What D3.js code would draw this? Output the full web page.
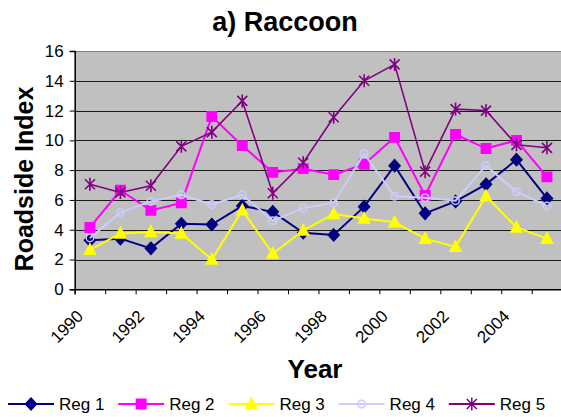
<!DOCTYPE html>
<html>
<head>
<meta charset="utf-8">
<script src="https://cdn.jsdelivr.net/npm/d3@7"></script>
<style>
  body { margin: 0; background: #fff; }
  text { font-family: "Liberation Sans", Arial, sans-serif; }
</style>
</head>
<body>
<script>
// data
var years = [1990, 1991, 1992, 1993, 1994, 1995, 1996, 1997, 1998, 1999, 2000, 2001, 2002, 2003, 2004, 2005];
var reg1 = [3.3, 3.4, 2.75, 4.4, 4.35, 5.6, 5.2, 3.8, 3.65, 5.55, 8.3, 5.1, 5.9, 7.05, 8.7, 6.1];
var reg2 = [4.15, 6.65, 5.3, 5.8, 11.6, 9.65, 7.85, 8.1, 7.7, 8.4, 10.2, 6.3, 10.4, 9.45, 10.0, 7.55];
var reg3 = [2.65, 3.75, 3.85, 3.75, 2.0, 5.3, 2.4, 3.95, 5.05, 4.75, 4.5, 3.4, 2.85, 6.25, 4.15, 3.4];
var reg4 = [3.45, 5.15, 5.9, 6.35, 5.7, 6.35, 4.6, 5.45, 5.8, 9.1, 6.25, 6.15, 5.95, 8.3, 6.55, 5.6];
var reg5 = [7.05, 6.5, 6.95, 9.6, 10.55, 12.65, 6.45, 8.5, 11.55, 14.0, 15.1, 7.9, 12.1, 12.0, 9.7, 9.5];
var seriesNames = ["Reg 1", "Reg 2", "Reg 3", "Reg 4", "Reg 5"];
var yTicks = [0, 2, 4, 6, 8, 10, 12, 14, 16];

var svg_width = 561;
var svg_height = 417;

var plot = { left: 74.7, right: 562.2, top: 51, bottom: 289.3 };

var svg = d3.select("body")
  .append("svg")
  .attr("width", svg_width)
  .attr("height", svg_height);

var x = d3.scaleLinear().domain([1990, 2006]).range([plot.left, plot.right]);
var y = d3.scaleLinear().domain([0, 16]).range([plot.bottom, plot.top]);

// plot background
svg.append("rect")
  .attr("x", plot.left)
  .attr("y", plot.top)
  .attr("width", plot.right - plot.left)
  .attr("height", plot.bottom - plot.top)
  .attr("fill", "#c0c0c0");

// gridlines
svg.append("g")
  .selectAll("line")
  .data(yTicks.filter(d => d > 0))
  .enter()
  .append("line")
  .attr("x1", plot.left)
  .attr("x2", plot.right)
  .attr("y1", d => Math.round(y(d)) + 0.5)
  .attr("y2", d => Math.round(y(d)) + 0.5)
  .attr("stroke", d => d == 16 ? "#808080" : "#1a1a1a")
  .attr("stroke-width", 1);

// axes
var leftAxis = d3.axisLeft(y).tickValues(yTicks).tickSize(5).tickPadding(6);
var bottomAxis = d3.axisBottom(x)
  .tickValues(d3.range(1990, 2006))
  .tickSize(5)
  .tickFormat(d => d % 2 == 0 ? d : "");

var gy = svg.append("g")
  .attr("transform", `translate(${plot.left}, 0)`)
  .call(leftAxis);
gy.selectAll("text").style("font-size", "17px").attr("fill", "#000");

var gx = svg.append("g")
  .attr("transform", `translate(0, ${plot.bottom})`)
  .call(bottomAxis);
gx.selectAll("text")
  .style("font-size", "17px")
  .attr("fill", "#000")
  .attr("text-anchor", "end")
  .attr("y", 0)
  .attr("dy", 0)
  .attr("transform", "translate(9, 28) rotate(-45)");

svg.selectAll(".domain").attr("stroke", "#000").attr("stroke-width", 1.5);
svg.selectAll(".tick line").attr("stroke", "#000");

// markers
var markerPaths = {
  diamond: "M0,-6L5.5,0L0,6L-5.5,0Z",
  square: "M-4.7,-4.7H4.7V4.7H-4.7Z",
  triangle: "M0,-6L5.5,4.5L-5.5,4.5Z",
  circle: d3.symbol(d3.symbolCircle, 44)(),
  star: "M-5,-5L5,5M-5,5L5,-5M0,-6.5V6.5"
};

var series = [
  { name: seriesNames[0], values: reg1, color: "#000080", marker: "diamond", fill: "#000080", width: 2 },
  { name: seriesNames[1], values: reg2, color: "#ff00ff", marker: "square", fill: "#ff00ff", width: 2 },
  { name: seriesNames[2], values: reg3, color: "#ffff00", marker: "triangle", fill: "#ffff00", width: 2 },
  { name: seriesNames[3], values: reg4, color: "#ccccff", marker: "circle", fill: "none", width: 2 },
  { name: seriesNames[4], values: reg5, color: "#800080", marker: "star", fill: "none", width: 1.6 }
];

var line = d3.line()
  .x((d, i) => x(years[i] + 0.5))
  .y(d => y(d));

series.forEach(function(s) {
  svg.append("path")
    .datum(s.values)
    .attr("d", line)
    .attr("fill", "none")
    .attr("stroke", s.color)
    .attr("stroke-width", s.width);

  svg.append("g")
    .selectAll("path")
    .data(s.values)
    .enter()
    .append("path")
    .attr("transform", (d, i) => `translate(${x(years[i] + 0.5)}, ${y(d)})`)
    .attr("d", markerPaths[s.marker])
    .attr("fill", s.fill)
    .attr("stroke", s.color)
    .attr("stroke-width", s.marker == "star" ? 1.6 : 1.5);
});

// titles
svg.append("text")
  .attr("x", 285)
  .attr("y", 31)
  .attr("text-anchor", "middle")
  .style("font-size", "27px")
  .style("font-weight", "bold")
  .text("a) Raccoon");

svg.append("text")
  .attr("transform", "translate(33, 179) rotate(-90)")
  .attr("text-anchor", "middle")
  .style("font-size", "25px")
  .style("font-weight", "bold")
  .text("Roadside Index");

svg.append("text")
  .attr("x", 315)
  .attr("y", 378)
  .attr("text-anchor", "middle")
  .style("font-size", "26px")
  .style("font-weight", "bold")
  .text("Year");

// legend
var legend = svg.append("g")
  .selectAll("g")
  .data(series)
  .enter()
  .append("g")
  .attr("transform", (d, i) => `translate(${8 + i * 110.2}, 404)`);

legend.append("line")
  .attr("x1", 0)
  .attr("x2", 46)
  .attr("stroke", d => d.color)
  .attr("stroke-width", 2);

legend.append("path")
  .attr("transform", "translate(23, 0)")
  .attr("d", d => markerPaths[d.marker])
  .attr("fill", d => d.fill)
  .attr("stroke", d => d.color)
  .attr("stroke-width", 1.5);

legend.append("text")
  .attr("x", 51)
  .attr("dy", "0.36em")
  .style("font-size", "17px")
  .text(d => d.name);
</script>
</body>
</html>
